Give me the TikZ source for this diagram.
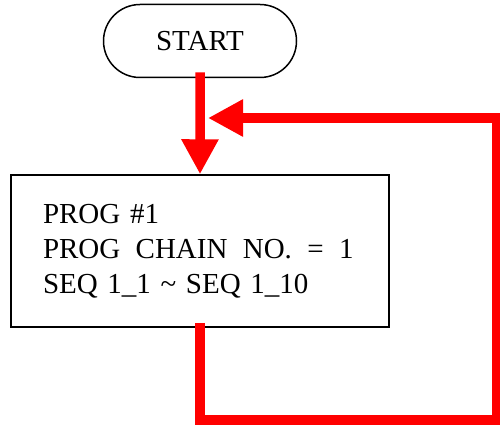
\documentclass[tikz,border=0pt]{standalone}
\usepackage{fontspec}
\setmainfont{Liberation Serif}
\usetikzlibrary{positioning,shapes.misc,arrows.meta}

\begin{document}
\begin{tikzpicture}[x=1pt,y=-1pt]
		% styles
		\tikzset{
			pill/.style={draw, rounded rectangle, line width=1.5pt, minimum width=193pt, minimum height=73pt, inner sep=0pt, font=\fontsize{29}{35}\selectfont},
			block/.style={draw, rectangle, line width=1.5pt, minimum height=152pt, text width=314pt, inner xsep=32pt, inner ysep=0pt, align=left, font=\fontsize{29}{35}\selectfont},
			flow/.style={red, line width=9.5pt, line join=miter, -{Triangle[length=35pt, width=35pt]}}
		}
		\useasboundingbox (0,0) rectangle (500,425);

		% nodes
		\node[pill] (start) at (200,41) {START};
		\node[block, below=96pt of start] (prog) {PROG \#1\\PROG~\hspace{5.7pt}CHAIN~\hspace{5.7pt}NO.~\hspace{5.7pt}=~\hspace{5.7pt}1\\SEQ 1\_1 \textasciitilde\ SEQ 1\_10};

		% connections
		\draw[flow, shorten <=-6pt] (start) -- (prog);

		% loop back from the bottom of the box
		\coordinate (turn) at (497,420);
		\coordinate (back) at (208,118);
		\draw[flow, shorten <=-5pt] (prog.south) |- (turn) |- (back);

\end{tikzpicture}
\end{document}
